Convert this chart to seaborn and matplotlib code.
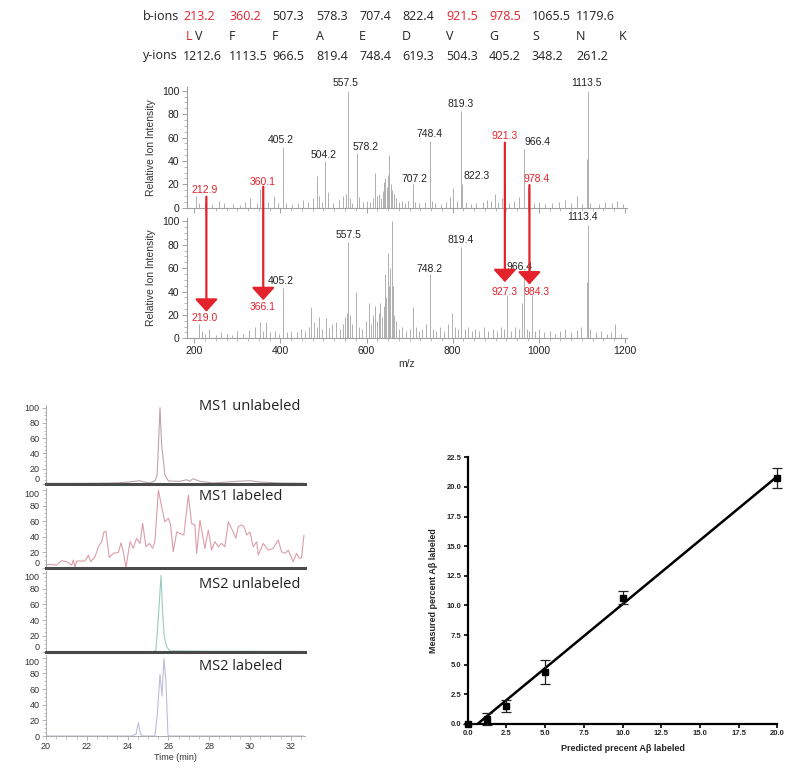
import numpy as np
import pandas as pd
import matplotlib.pyplot as plt
import seaborn as sns
from matplotlib.patches import ConnectionPatch
from matplotlib.ticker import MultipleLocator, FormatStrFormatter

# ---- fragment table ----
b_ions = ["213.2", "360.2", "507.3", "578.3", "707.4", "822.4", "921.5", "978.5", "1065.5", "1179.6"]
b_ions_red = [True, True, False, False, False, False, True, True, False, False]
residues = ["V", "F", "F", "A", "E", "D", "V", "G", "S", "N", "K"]
y_ions = ["1212.6", "1113.5", "966.5", "819.4", "748.4", "619.3", "504.3", "405.2", "348.2", "261.2"]

# ---- MS/MS spectra (m/z, relative intensity) ----
top_mz = [205, 212, 225, 240, 258, 270, 290, 305, 318, 330, 345, 352, 360, 372, 384, 395, 405.2, 412,
          428, 440, 452, 465, 476, 484, 490, 497, 504.2, 510, 522, 535, 546, 552, 557.5, 561, 566,
          578.2, 583, 592, 600, 608, 615, 620, 624, 630, 634, 638, 641, 644, 647, 650, 653, 656, 660,
          664, 668, 675, 683, 690, 697, 707.2, 712, 722, 735, 748.4, 752, 760, 772, 785, 795, 801,
          810, 819.3, 822.3, 830, 842, 855, 870, 880, 890, 898, 906, 915, 921.3, 930, 942, 955, 966.4,
          975, 988, 1000, 1015, 1030, 1048, 1062, 1075, 1090, 1100, 1112.5, 1113.5, 1120, 1140, 1155,
          1170, 1182, 1195]
top_int = [10, 4, 5, 3, 6, 4, 3, 2, 5, 8, 4, 16, 18, 5, 10, 4, 52, 4,
           3, 4, 7, 5, 8, 27, 10, 5, 40, 13, 4, 7, 10, 12, 100, 8, 4,
           47, 9, 5, 6, 5, 8, 30, 10, 12, 8, 14, 22, 25, 18, 28, 45, 20, 15,
           12, 8, 5, 6, 4, 6, 20, 5, 4, 5, 57, 6, 4, 3, 5, 9, 17,
           6, 83, 20, 5, 3, 4, 5, 7, 6, 12, 5, 8, 23, 4, 6, 9, 50,
           18, 4, 5, 3, 4, 5, 7, 4, 10, 3, 42, 100, 4, 3, 5,
           4, 6, 3]

bot_mz = [212, 218, 225, 235, 250, 262, 275, 288, 300, 312, 326, 340, 352, 360, 366, 375, 388, 397,
          405.2, 415, 425, 438, 448, 458, 467, 472, 478, 485, 490, 497, 505, 512, 520, 530, 538, 545,
          550, 554, 557.5, 561, 566, 575, 582, 590, 598, 605, 610, 615, 620, 624, 628, 632, 636, 640,
          643, 646, 649, 652, 655, 658, 661, 664, 668, 675, 683, 692, 700, 707, 714, 722, 730, 738,
          748.2, 755, 762, 770, 780, 790, 798, 805, 812, 819.4, 828, 836, 845, 853, 862, 872, 882,
          893, 902, 912, 920, 927.3, 936, 945, 953, 960, 966.4, 972, 978, 984.3, 992, 1000, 1012,
          1025, 1038, 1050, 1062, 1075, 1088, 1098, 1112.5, 1113.4, 1120, 1132, 1145, 1158, 1168,
          1178, 1190]
bot_int = [12, 6, 4, 8, 3, 5, 4, 3, 6, 4, 7, 10, 14, 6, 14, 5, 6, 4,
           43, 5, 6, 5, 8, 6, 10, 27, 14, 10, 18, 8, 17, 9, 12, 14, 8, 12,
           18, 22, 82, 20, 12, 40, 10, 8, 15, 30, 12, 20, 28, 15, 22, 30, 18, 28,
           55, 35, 73, 45, 60, 100, 45, 20, 15, 8, 10, 6, 8, 27, 10, 6, 8, 12,
           55, 8, 6, 10, 6, 12, 22, 10, 8, 78, 8, 10, 6, 8, 6, 10, 6,
           8, 6, 10, 8, 37, 6, 10, 8, 30, 58, 8, 6, 37, 6, 8, 5,
           6, 4, 6, 8, 5, 7, 10, 48, 97, 8, 5, 6, 4, 5,
           12, 4]

# peak labels: (text, x, y)
top_labels = [("557.5", 551, 107), ("1113.5", 1111, 107), ("819.3", 818, 89), ("405.2", 401, 58),
              ("504.2", 500, 45), ("578.2", 597, 52), ("748.4", 747, 63), ("707.2", 712, 24.5),
              ("822.3", 855, 27), ("966.4", 998, 56)]
bot_labels = [("557.5", 557.5, 88), ("1113.4", 1102, 103.5), ("819.4", 818, 84), ("748.2", 747, 59.5),
              ("966.4", 956, 61), ("405.2", 401, 49)]

# red shifted fragments: arrow x, start (top), end (bottom), labels
shift_x = [228, 360.1, 921.3, 978.4]
shift_label_x = [224, 358, 921.3, 995]
shift_top_text = ["212.9", "360.1", "921.3", "978.4"]
shift_bot_text = ["219.0", "366.1", "927.3", "984.3"]
shift_start = [9.4, 18, 55.6, 19.4]
shift_end = [22.7, 32.6, 48, 46]
shift_top_y = [15, 22, 61.5, 24.5]
shift_bot_y = [17, 27, 40, 40]

# ---- chromatograms (time, relative intensity) ----
ms1_unl_t = [20.0, 21.0, 22.5, 23.5, 24.0, 24.6, 24.8, 25.1, 25.35, 25.45, 25.59, 25.67, 25.75, 25.83,
             26.0, 26.57, 26.9, 27.05, 27.2, 27.55, 28.2, 29.35, 30.0, 30.5, 31.5, 32.65]
ms1_unl_i = [0.8, 0.8, 1.0, 1.5, 2.5, 4.3, 2.6, 1.3, 4.3, 12, 100, 51, 32, 12,
             4, 3.5, 5.6, 3.5, 7, 3.5, 1.3, 3.5, 4.3, 2.6, 1.3, 0.9]

ms1_lab_t = [20.0, 20.2, 20.52, 20.77, 21.01, 21.26, 21.34, 21.42, 21.5, 21.91, 22.08, 22.19, 22.4,
             22.57, 22.73, 22.84, 22.94, 23.1, 23.3, 23.55, 23.68, 23.79, 23.92, 24.12, 24.28, 24.44,
             24.61, 24.74, 24.9, 25.07, 25.23, 25.34, 25.51, 25.67, 25.83, 26.0, 26.11, 26.24, 26.41,
             26.57, 26.76, 26.98, 27.14, 27.3, 27.39, 27.55, 27.79, 27.96, 28.12, 28.28, 28.45, 28.61,
             28.77, 28.94, 29.18, 29.31, 29.43, 29.59, 29.71, 29.84, 30.0, 30.16, 30.33, 30.41, 30.65,
             30.9, 31.14, 31.39, 31.55, 31.72, 31.88, 32.12, 32.29, 32.42, 32.53, 32.65]
ms1_lab_i = [3.4, 4.3, 3.4, 9, 7.7, 3.4, 9.9, 0.4, 8.6, 8.6, 16.3, 7.7, 14,
             27, 33.5, 46, 47, 13.3, 18.5, 19.7, 32, 20.6, 0.4, 33.5, 25, 37.8,
             31.3, 57, 27, 31.3, 25, 33.5, 100, 78.5, 59, 63.5, 55, 20.6, 46,
             44, 42, 93.5, 57, 55, 18.5, 61, 25, 48.5, 22.7, 33.5, 27, 31.3,
             27, 59, 46, 37.8, 52.8, 55, 52.8, 42, 46, 27, 33.5, 16.3, 31.3,
             22.7, 25, 35.6, 20.6, 18.5, 22.7, 7.7, 18.5, 12, 12.9, 42]

ms2_unl_t = [20.0, 25.3, 25.39, 25.5, 25.64, 25.72, 25.8, 25.92, 26.08, 27.0, 28.0, 29.0, 32.65]
ms2_unl_i = [0.3, 0.3, 2, 40, 97, 49, 19, 6, 1, 0.8, 0.6, 0.6, 0.3]

ms2_lab_t = [20.0, 24.2, 24.28, 24.41, 24.53, 24.64, 24.77, 25.34, 25.46, 25.59, 25.69, 25.78, 25.88,
             25.98, 26.1, 32.65]
ms2_lab_i = [0, 0, 1.3, 2, 17, 2, 0, 0, 27.7, 78.7, 51, 99, 70, 1.3, 0, 0]

# ---- calibration ----
predicted = [0.0, 1.25, 2.5, 5.0, 10.0, 20.0]
measured = [0.0, 0.39, 1.52, 4.36, 10.66, 20.78]
measured_err = [0.0, 0.5, 0.5, 1.0, 0.55, 0.85]

RED = "#e4222b"
W, H = 800, 779


def px_box(left, top, right, bottom):
    return [left / W, 1 - bottom / H, (right - left) / W, (bottom - top) / H]


sns.set_theme(style="ticks")
plt.rcParams["font.family"] = ["Liberation Sans", "DejaVu Sans"]

fig = plt.figure(figsize=(8, 7.79), dpi=100)

# ---------- fragment table ----------
col_x = [183, 229, 272, 316, 359, 402, 446, 489, 532, 576, 619]
tfont = dict(family=["Open Sans", "DejaVu Sans"], fontsize=9, va="center", ha="left")
fig.text(143 / W, 1 - 16 / H, "b-ions", color="#222", **tfont)
fig.text(143 / W, 1 - 56 / H, "y-ions", color="#222", **tfont)
for i, lab in enumerate(b_ions):
    fig.text(col_x[i] / W, 1 - 16 / H, lab, color=RED if b_ions_red[i] else "#222", **tfont)
for i, lab in enumerate(y_ions):
    fig.text(col_x[i] / W, 1 - 56 / H, lab, color="#222", **tfont)
fig.text(186 / W, 1 - 36 / H, "L", color=RED, **tfont)
fig.text(195 / W, 1 - 36 / H, residues[0], color="#222", **tfont)
for i, res in enumerate(residues[1:], start=1):
    fig.text(col_x[i] / W, 1 - 36 / H, res, color="#222", **tfont)

# ---------- spectra ----------
ax_top = fig.add_axes(px_box(187, 87.2, 627, 207.7))
ax_bot = fig.add_axes(px_box(187, 217.8, 627, 338.3))
spectra = [(ax_top, top_mz, top_int, top_labels), (ax_bot, bot_mz, bot_int, bot_labels)]
for ax, mz, inten, labels in spectra:
    ax.vlines(mz, 0, inten, color="#9a9a9a", lw=0.55)
    ax.set_xlim(183, 1205)
    ax.set_ylim(0, 103)
    ax.set_facecolor("none")
    sns.despine(ax=ax)
    for s in ["left", "bottom"]:
        ax.spines[s].set_color("#a0a0a0")
        ax.spines[s].set_linewidth(0.8)
    ax.xaxis.set_major_locator(MultipleLocator(200))
    ax.xaxis.set_minor_locator(MultipleLocator(25))
    ax.yaxis.set_major_locator(MultipleLocator(20))
    ax.yaxis.set_minor_locator(MultipleLocator(5))
    ax.tick_params(which="major", length=3.5, width=0.7, color="#a0a0a0", labelsize=7.5,
                   labelcolor="#222", pad=2)
    ax.tick_params(which="minor", length=2, width=0.5, color="#a0a0a0")
    ax.set_ylabel("Relative Ion Intensity", fontsize=7.5, color="#333", labelpad=4)
    for txt, x, y in labels:
        ax.text(x, y, txt, fontsize=7.5, color="#222", ha="center", va="center", clip_on=False)
ax_top.tick_params(axis="x", labelbottom=False)
ax_bot.set_xlabel("m/z", fontsize=7.5, color="#333", labelpad=2)

for i in range(len(shift_x)):
    con = ConnectionPatch(xyA=(shift_x[i], shift_start[i]), coordsA=ax_top.transData,
                          xyB=(shift_x[i], shift_end[i]), coordsB=ax_bot.transData,
                          arrowstyle="-|>,head_length=0.55,head_width=0.5", mutation_scale=14,
                          color=RED, lw=1.6, shrinkA=0, shrinkB=0)
    fig.add_artist(con)
    ax_top.text(shift_label_x[i], shift_top_y[i], shift_top_text[i], color=RED, fontsize=7.5,
                ha="center", va="center", clip_on=False)
    ax_bot.text(shift_label_x[i], shift_bot_y[i], shift_bot_text[i], color=RED, fontsize=7.5,
                ha="center", va="center", clip_on=False)

# ---------- chromatograms ----------
chrom = [
    (ms1_unl_t, ms1_unl_i, "#bba3ad", "MS1 unlabeled", (46, 405.4, 305, 484), 407),
    (ms1_lab_t, ms1_lab_i, "#dc9ea7", "MS1 labeled", (46, 487.7, 305, 567.7), 497),
    (ms2_unl_t, ms2_unl_i, "#9ccbc2", "MS2 unlabeled", (46, 570.6, 305, 651.7), 584),
    (ms2_lab_t, ms2_lab_i, "#bdbdd9", "MS2 labeled", (46, 655.4, 305, 736), 667),
]
for k, (t, inten, col, name, box, name_y) in enumerate(chrom):
    ax = fig.add_axes(px_box(*box))
    ax.set_zorder(10 - k)
    ax.set_facecolor("none")
    df = pd.DataFrame({"time": t, "intensity": inten})
    sns.lineplot(data=df, x="time", y="intensity", ax=ax, color=col, lw=0.8, estimator=None)
    ax.set_xlim(20.0, 32.7)
    ax.set_ylim(0, 103)
    ax.set_xlabel("")
    ax.set_ylabel("")
    sns.despine(ax=ax)
    ax.spines["left"].set_color("#aaaaaa")
    ax.spines["left"].set_linewidth(0.7)
    ax.yaxis.set_major_locator(MultipleLocator(20))
    ax.yaxis.set_minor_locator(MultipleLocator(5))
    ax.xaxis.set_major_locator(MultipleLocator(2))
    ax.xaxis.set_minor_locator(MultipleLocator(0.5))
    ax.tick_params(which="major", length=3, width=0.6, color="#aaaaaa", labelsize=6.5,
                   labelcolor="#333", pad=1.5)
    ax.tick_params(which="minor", length=1.8, width=0.5, color="#aaaaaa")
    # nudge the stacked 0 / 100 labels apart a little
    for tick, loc in zip(ax.yaxis.get_major_ticks(), ax.yaxis.get_majorticklocs()):
        if loc == 0 and k < 3:
            tick.label1.set_va("bottom")
        if loc == 100 and k > 0:
            tick.label1.set_va("top")
    if k < 3:
        ax.spines["bottom"].set_color("#4a4a4a")
        ax.spines["bottom"].set_linewidth(2.2)
        ax.tick_params(axis="x", which="both", bottom=False, labelbottom=False)
    else:
        ax.spines["bottom"].set_color("#aaaaaa")
        ax.spines["bottom"].set_linewidth(0.7)
        ax.set_xlabel("Time (min)", fontsize=6.5, color="#333", labelpad=1)
    fig.text(199 / W, 1 - name_y / H, name, family=["Open Sans", "DejaVu Sans"], fontsize=10.5,
             color="#222", va="center", ha="left")

# ---------- calibration ----------
axc = fig.add_axes(px_box(467.7, 457.3, 777.3, 724))
sns.regplot(x=predicted, y=measured, ax=axc, ci=None, scatter=False, truncate=True,
            color="black", line_kws=dict(lw=1.8))
axc.errorbar(predicted, measured, yerr=measured_err, fmt="s", ms=4, color="black",
             ecolor="#222", elinewidth=0.9, capsize=3.5, capthick=0.9, clip_on=False, zorder=5)
axc.set_xlim(0, 20)
axc.set_ylim(0, 22.5)
sns.despine(ax=axc)
for s in ["left", "bottom"]:
    axc.spines[s].set_linewidth(1.6)
    axc.spines[s].set_color("black")
axc.xaxis.set_major_locator(MultipleLocator(2.5))
axc.yaxis.set_major_locator(MultipleLocator(2.5))
axc.xaxis.set_major_formatter(FormatStrFormatter("%.1f"))
axc.yaxis.set_major_formatter(FormatStrFormatter("%.1f"))
axc.tick_params(length=3, width=1.2, color="black", labelsize=5.5, pad=1.5)
for lab in axc.get_xticklabels() + axc.get_yticklabels():
    lab.set_fontweight("bold")
axc.set_xlabel("Predicted precent A\u03b2 labeled", fontsize=6.5, fontweight="bold", labelpad=5)
axc.set_ylabel("Measured percent A\u03b2 labeled", fontsize=6.5, fontweight="bold", labelpad=6)

fig.savefig("out.png", dpi=100)
